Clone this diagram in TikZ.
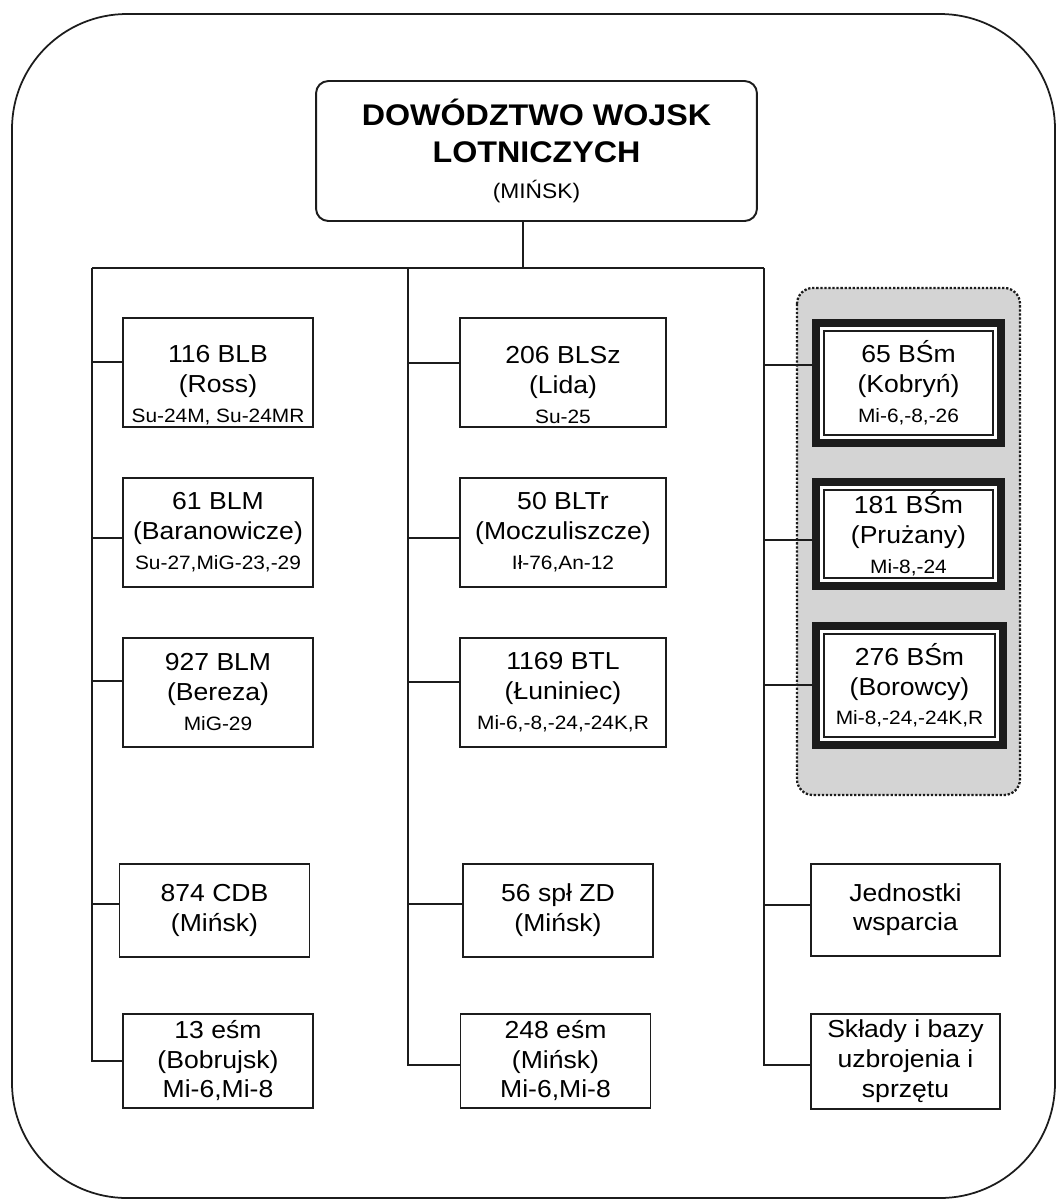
\documentclass[tikz,border=0pt]{standalone}
\usepackage{fontspec}
\setmainfont{Liberation Sans}[FakeStretch=1.08]
\usepackage{xcolor}
\usetikzlibrary{positioning}
\definecolor{cLine}{HTML}{1C1C1C}
\definecolor{cShade}{HTML}{D4D4D4}
\newcommand{\acft}[1]{{\fontsize{11}{13}\selectfont #1}}
\tikzset{
  unit/.style={rectangle,draw=cLine,fill=white,line width=1.1pt,minimum width=3.8cm,minimum height=2.18cm,align=center,inner sep=1pt,font=\fontsize{14}{17}\selectfont},
  hq/.style={unit,rounded corners=7pt,minimum width=8.82cm,minimum height=2.8cm,font=\fontsize{17}{21}\selectfont\bfseries},
  heli/.style={unit,line width=4.5pt,minimum width=3.7cm},
  heliin/.style={draw=cLine,line width=1.1pt},
  grp/.style={draw=cLine,fill=cShade,densely dotted,line width=1.3pt,rounded corners=9pt},
  pageframe/.style={draw=cLine,line width=1pt,rounded corners=2.3cm},
  conn/.style={draw=cLine,line width=1.1pt},
}
\begin{document}
\begin{tikzpicture}[x=0.02cm,y=-0.02cm]
  \useasboundingbox (0,0) rectangle (1058,1204);
  \draw[pageframe] (12,14) rectangle (1055,1198);
  \draw[grp] (797,288) rectangle (1020,795);

  \node[hq] (hq) at (536.5,151) {DOWÓDZTWO WOJSK\\LOTNICZYCH\\{\fontsize{12}{14}\selectfont\mdseries (MIŃSK)}};
  \coordinate (lsp) at (92,268);
  \coordinate (msp) at (408,268);
  \coordinate (rsp) at (764,268);

  % left column
  \node[unit] (b116) at (218,372.5) {\rule{0pt}{24pt}116 BLB\\(Ross)\\\acft{Su-24M, Su-24MR}};
  \node[unit,below=0.98cm of b116] (b61) {61 BLM\\(Baranowicze)\\\acft{Su-27,MiG-23,-29}};
  \node[unit,below=0.98cm of b61] (b927) {927 BLM\\(Bereza)\\\acft{MiG-29}};
  \node[unit,minimum height=1.86cm,below=2.3cm of b927,xshift=-0.07cm] (b874) {874 CDB\\(Mińsk)};
  \node[unit,minimum height=1.88cm,below=1.1cm of b874,xshift=0.07cm] (b13) {13 eśm\\(Bobrujsk)\\Mi-6,Mi-8};

  % middle column
  \node[unit,minimum width=4.12cm] (b206) at (563,372.5) {\rule{0pt}{24pt}206 BLSz\\(Lida)\\\acft{Su-25}};
  \node[unit,minimum width=4.12cm,below=0.98cm of b206] (b50) {50 BLTr\\(Moczuliszcze)\\\acft{Ił-76,An-12}};
  \node[unit,minimum width=4.12cm,below=0.98cm of b50] (b1169) {1169 BTL\\(Łuniniec)\\\acft{Mi-6,-8,-24,-24K,R}};
  \node[unit,minimum height=1.86cm,below=2.3cm of b1169,xshift=-0.1cm] (b56) {56 spł ZD\\(Mińsk)};
  \node[unit,minimum height=1.88cm,below=1.1cm of b56,xshift=-0.05cm] (b248) {248 eśm\\(Mińsk)\\Mi-6,Mi-8};

  % right column
  \node[heli,minimum height=2.4cm] (b65) at (908.5,383) {65 BŚm\\(Kobryń)\\\acft{Mi-6,-8,-26}};
  \node[heli,minimum height=2.08cm,below=0.62cm of b65] (b181) {181 BŚm\\(Prużany)\\\acft{Mi-8,-24}};
  \node[heli,minimum height=2.38cm,minimum width=3.74cm,below=0.64cm of b181,xshift=0.02cm] (b276) {276 BŚm\\(Borowcy)\\\acft{Mi-8,-24,-24K,R}};
  \node[unit,minimum width=3.78cm,minimum height=1.84cm,below=2.28cm of b276,xshift=-0.08cm] (jw) {Jednostki\\wsparcia};
  \node[unit,minimum width=3.78cm,minimum height=1.9cm,below=1.12cm of jw] (skl) {Składy i bazy\\uzbrojenia i\\sprzętu};

  \draw[heliin] ([shift={(12,-12)}]b65.south west) rectangle ([shift={(-12,12)}]b65.north east);
  \draw[heliin] ([shift={(12,-12)}]b181.south west) rectangle ([shift={(-12,12)}]b181.north east);
  \draw[heliin] ([shift={(12,-12)}]b276.south west) rectangle ([shift={(-12,12)}]b276.north east);

  \draw[conn] ([xshift=-0.27cm]hq.south) |- (lsp);
  \draw[conn] (lsp) -- (rsp);
  \draw[conn] (lsp) -- (lsp |- b13.west);
  \draw[conn] (msp) -- (msp |- b248.west);
  \draw[conn] (rsp) -- (rsp |- skl.west);

  \draw[conn] ([yshift=0.21cm]b116.west) -| (lsp);
  \draw[conn] ([yshift=-0.12cm]b61.west) -| (lsp);
  \draw[conn] ([yshift=0.22cm]b927.west) -| (lsp);
  \draw[conn] ([yshift=0.12cm]b874.west) -| (lsp);
  \draw[conn] (b13.west) -| (lsp);

  \draw[conn] ([yshift=0.19cm]b206.west) -| (msp);
  \draw[conn] ([yshift=-0.12cm]b50.west) -| (msp);
  \draw[conn] ([yshift=0.2cm]b1169.west) -| (msp);
  \draw[conn] ([yshift=0.12cm]b56.west) -| (msp);
  \draw[conn] ([yshift=-0.08cm]b248.west) -| (msp);

  \draw[conn] ([yshift=0.36cm]b65.west) -| (rsp);
  \draw[conn] ([yshift=-0.12cm]b181.west) -| (rsp);
  \draw[conn] (b276.west) -| (rsp);
  \draw[conn] ([yshift=0.1cm]jw.west) -| (rsp);
  \draw[conn] ([yshift=-0.08cm]skl.west) -| (rsp);
\end{tikzpicture}
\end{document}
